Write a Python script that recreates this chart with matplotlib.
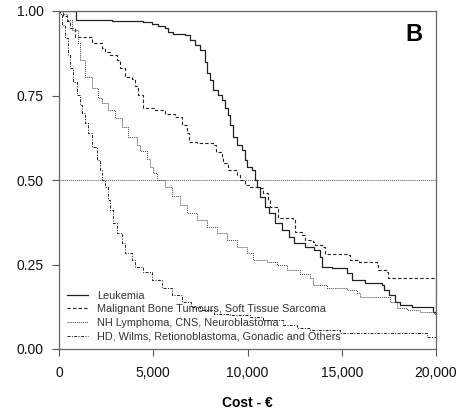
import matplotlib
matplotlib.use("Agg")
import matplotlib.pyplot as plt
from matplotlib.ticker import StrMethodFormatter

plt.rcParams['font.family'] = ['Liberation Sans', 'DejaVu Sans']

# step points: cost (€) and share of patients still above that cost
leuk_cost = [0, 900, 2810, 4460, 4930, 5250, 5620, 5780, 6050, 6690, 6950, 7210, 7480, 7750, 7850,
             8010, 8170, 8430, 8650, 8810, 8970, 9070, 9230, 9450, 9710, 9870, 9970, 10240, 10400,
             10500, 10660, 10930, 11140, 11460, 11830, 12200, 12470, 13050, 13530, 13850, 13960,
             14480, 15280, 15540, 16230, 17140, 17240, 17510, 17830, 18090, 18730, 19850, 20000]
leuk_surv = [1.0, 0.973, 0.970, 0.966, 0.962, 0.956, 0.949, 0.939, 0.931, 0.929, 0.914, 0.899, 0.885,
             0.849, 0.817, 0.796, 0.766, 0.751, 0.737, 0.713, 0.692, 0.663, 0.627, 0.605, 0.589,
             0.559, 0.538, 0.530, 0.500, 0.479, 0.450, 0.420, 0.402, 0.373, 0.352, 0.331, 0.314,
             0.302, 0.293, 0.272, 0.243, 0.240, 0.225, 0.204, 0.195, 0.189, 0.175, 0.160, 0.139,
             0.130, 0.124, 0.109, 0.109]

bone_cost = [0, 200, 400, 600, 850, 1750, 2260, 2440, 2710, 3060, 3240, 3500, 3860, 4030, 4210, 4470,
             5090, 5620, 6150, 6510, 6770, 6900, 7300, 8190, 8350, 8650, 8700, 8970, 9440, 9600,
             9870, 10130, 10560, 10820, 11090, 11190, 11620, 12410, 12520, 12890, 13050, 13470,
             13560, 14000, 14110, 15330, 15440, 15900, 16870, 16920, 17400, 17450, 19980, 20000]
bone_surv = [1.0, 0.985, 0.97, 0.95, 0.922, 0.905, 0.89, 0.88, 0.87, 0.855, 0.83, 0.806, 0.80, 0.777,
             0.751, 0.713, 0.707, 0.695, 0.686, 0.663, 0.639, 0.613, 0.610, 0.604, 0.583, 0.568,
             0.550, 0.530, 0.515, 0.500, 0.485, 0.479, 0.476, 0.462, 0.441, 0.420, 0.388, 0.382,
             0.346, 0.337, 0.322, 0.317, 0.308, 0.302, 0.280, 0.278, 0.263, 0.257, 0.249, 0.234,
             0.228, 0.209, 0.10, 0.10]

nhl_cost = [0, 200, 410, 670, 1020, 1110, 1380, 1730, 2080, 2260, 2620, 2970, 3330, 3680, 4120, 4300,
            4650, 4820, 5000, 5180, 5620, 5980, 6420, 6790, 7320, 7850, 8380, 8910, 9440, 9970,
            10290, 11030, 11560, 12100, 12790, 13320, 13470, 14220, 15280, 15810, 15970, 17560,
            17930, 18460, 19150, 19900, 20000]
nhl_surv = [1.0, 0.99, 0.973, 0.944, 0.905, 0.855, 0.805, 0.772, 0.742, 0.728, 0.707, 0.683, 0.657,
            0.628, 0.605, 0.585, 0.562, 0.538, 0.521, 0.50, 0.478, 0.452, 0.426, 0.402, 0.382,
            0.361, 0.343, 0.322, 0.302, 0.284, 0.263, 0.257, 0.249, 0.234, 0.222, 0.210, 0.189,
            0.180, 0.175, 0.166, 0.154, 0.139, 0.121, 0.115, 0.109, 0.104, 0.104]

hd_cost = [0, 50, 140, 320, 490, 580, 760, 940, 1110, 1200, 1380, 1550, 1730, 2000, 2170, 2260, 2440,
           2620, 2710, 2880, 3060, 3330, 3500, 3860, 4030, 4470, 4920, 5450, 5980, 6510, 7000, 7480,
           8200, 9070, 10130, 10820, 11880, 12630, 13320, 14910, 19520, 20000]
hd_surv = [1.0, 0.99, 0.959, 0.92, 0.87, 0.831, 0.79, 0.751, 0.722, 0.698, 0.669, 0.639, 0.598, 0.559,
           0.53, 0.5, 0.479, 0.441, 0.411, 0.373, 0.343, 0.314, 0.284, 0.263, 0.243, 0.228, 0.204,
           0.180, 0.160, 0.139, 0.125, 0.115, 0.105, 0.10, 0.095, 0.086, 0.071, 0.062, 0.056,
           0.047, 0.036, 0.036]

labels = ["Leukemia", "Malignant Bone Tumours, Soft Tissue Sarcoma",
          "NH Lymphoma, CNS, Neuroblastoma", "HD, Wilms, Retionoblastoma, Gonadic and Others"]
x_ticks = [0, 5000, 10000, 15000, 20000]
y_ticks = [0.0, 0.25, 0.5, 0.75, 1.0]

fig = plt.figure(figsize=(4.6, 4.16), dpi=100)
ax = fig.add_axes([59/460, 67/416, 377/460, 338/416])

ink = "#222222"
ax.axhline(0.5, color="#555555", lw=0.7, ls=(0, (1, 1)))
ax.step(leuk_cost, leuk_surv, where="post", color=ink, lw=0.9, ls="-", label=labels[0])
ax.step(bone_cost, bone_surv, where="post", color=ink, lw=0.8, ls=(0, (3, 2)), label=labels[1])
ax.step(nhl_cost, nhl_surv, where="post", color="#444444", lw=0.7, ls=(0, (1, 1)), label=labels[2])
ax.step(hd_cost, hd_surv, where="post", color=ink, lw=0.7, ls=(0, (3, 1.5, 1, 1.5)), label=labels[3])

ax.set_xlim(0, 20000); ax.set_ylim(0, 1)
ax.set_xticks(x_ticks); ax.set_yticks(y_ticks)
ax.xaxis.set_major_formatter(StrMethodFormatter("{x:,.0f}"))
ax.yaxis.set_major_formatter(StrMethodFormatter("{x:.2f}"))
ax.tick_params(axis="both", direction="out", length=5, width=0.8, color="#555555",
               labelsize=10, labelcolor="#111111")
ax.tick_params(axis="x", pad=7)
ax.tick_params(axis="y", pad=6)
for sp in ax.spines.values():
    sp.set_color("#666666"); sp.set_linewidth(0.9)

ax.set_xlabel("Cost - €", fontsize=10, fontweight="bold", labelpad=12)
ax.text(0.942, 0.929, "B", transform=ax.transAxes, ha="center", va="center",
        fontsize=17, fontweight="bold")

leg = ax.legend(loc="lower left", bbox_to_anchor=(0.0, 0.0), frameon=False, fontsize=7.8,
                handlelength=2.0, handletextpad=0.8, labelspacing=0.33, borderaxespad=0.3)
for t in leg.get_texts():
    t.set_color("#333333")

fig.savefig("out.png", dpi=100)
